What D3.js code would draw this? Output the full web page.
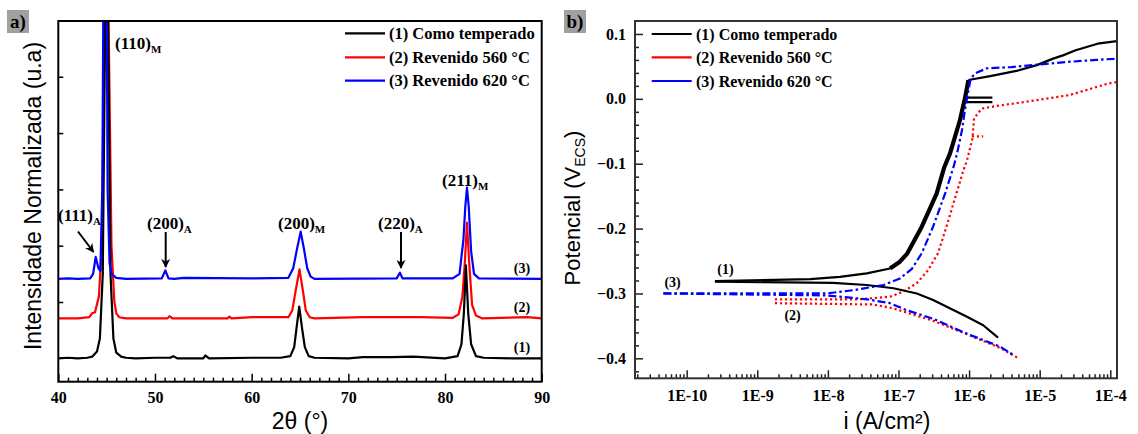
<!DOCTYPE html>
<html><head><meta charset="utf-8">
<script src="https://cdn.jsdelivr.net/npm/d3@7"></script>
<style>
body{margin:0;background:#fff;}
svg{display:block;}
</style></head>
<body>
<svg id="c" width="1138" height="434"></svg>
<script>
// ---------------- Panel a: XRD ----------------
const seriesNames = ["(1) Como temperado", "(2) Revenido 560 °C", "(3) Revenido 620 °C"];
const seriesColors = ["#000000", "#ff0000", "#0000ff"];
const xrdTicksX = [40, 50, 60, 70, 80, 90];
// [2theta, intensity(offset, a.u.)]
const xrdBlack = [[40,0],[41,0.01],[42,0],[43,0.01],[43.5,0.03],[44.0,0.12],[44.3,0.35],[44.6,1.5],[44.85,6],[45.0,12],[45.15,6],[45.4,1.5],[45.7,0.35],[46.0,0.1],[46.5,0.03],[47,0.01],[48,0],[50,0.01],[51.6,0.01],[51.9,0.04],[52.3,0],[55.0,0],[55.2,0.05],[55.6,0],[60,0.01],[63,0.01],[64.0,0.04],[64.4,0.2],[64.65,0.55],[64.92,0.92],[65.2,0.55],[65.5,0.2],[65.9,0.04],[66.5,0.01],[70,0],[71.5,0.02],[74.5,0.02],[76.7,0.03],[80,0],[81.3,0.04],[81.7,0.25],[81.95,0.8],[82.16,1.65],[82.4,0.8],[82.7,0.25],[83.2,0.04],[84,0.01],[87,0],[90,0]];
const xrdRed = [[40,0.71],[42,0.71],[43.2,0.73],[43.5,0.8],[43.8,0.82],[44.2,1.1],[44.5,2],[44.8,6],[45.0,12],[45.2,6],[45.5,2],[45.8,1.0],[46.0,0.8],[46.3,0.73],[47,0.71],[51.3,0.71],[51.5,0.75],[51.8,0.71],[57.5,0.71],[57.7,0.74],[57.9,0.71],[60.1,0.73],[63.8,0.73],[64.2,0.85],[64.55,1.2],[64.95,1.58],[65.3,1.2],[65.6,0.85],[66,0.73],[66.5,0.71],[71.5,0.73],[76,0.73],[77.5,0.73],[80.8,0.72],[81.4,0.78],[81.8,1.1],[82.05,1.7],[82.27,2.41],[82.5,1.7],[82.8,0.95],[83.2,0.76],[83.8,0.71],[88.5,0.73],[90,0.71]];
const xrdBlue = [[40,1.41],[41,1.42],[42,1.41],[43.3,1.42],[43.6,1.5],[43.87,1.8],[44.15,1.6],[44.35,1.55],[44.55,3],[44.85,12],[45.1,3],[45.3,1.7],[45.5,1.5],[46,1.43],[47,1.41],[50.7,1.42],[51.07,1.56],[51.4,1.42],[52,1.41],[53,1.43],[60,1.42],[63.8,1.43],[64.3,1.6],[64.7,1.95],[65.07,2.25],[65.4,1.95],[65.75,1.6],[66.1,1.45],[66.5,1.41],[75.0,1.42],[75.34,1.52],[75.6,1.42],[80.8,1.42],[81.5,1.5],[81.9,2.1],[82.1,2.7],[82.27,3.03],[82.45,2.7],[82.7,1.9],[83.0,1.5],[83.5,1.42],[90,1.41]];
const xrdTicksY = [1, 2, 3, 4, 5];

// ---------------- Panel b: polarization (log10 i, E) ----------------
const tafelTicksX = [-10, -9, -8, -7, -6, -5, -4];
const tafelTickLabels = ["1E-10", "1E-9", "1E-8", "1E-7", "1E-6", "1E-5", "1E-4"];
const tafelTicksY = [0.1, 0.0, -0.1, -0.2, -0.3, -0.4];
const blackAnodicFlat = [[-9.6,-0.281],[-8.25,-0.278],[-7.83,-0.2745],[-7.45,-0.269],[-7.12,-0.2615]];
const blackAnodicRise = [[-7.12,-0.2615],[-6.98,-0.251],[-6.88,-0.239],[-6.67,-0.197],[-6.46,-0.146],[-6.35,-0.105],[-6.27,-0.084],[-6.13,-0.033],[-6.06,0.0],[-6.01,0.029]];
const blackUpper = [[-6.01,0.029],[-5.70,0.035],[-5.33,0.043],[-5.04,0.052],[-4.81,0.062],[-4.67,0.067],[-4.49,0.075],[-4.18,0.085],[-3.905,0.089]];
const blackStubs = [[[-6.04,0.002],[-5.67,0.002]],[[-6.04,-0.005],[-5.67,-0.005]]];
const blackCathodic = [[-9.6,-0.282],[-7.93,-0.2837],[-7.45,-0.287],[-7.07,-0.292],[-6.74,-0.300],[-6.51,-0.310],[-6.03,-0.336],[-5.80,-0.349],[-5.59,-0.368]];
const redAnodic = [[-8.75,-0.309],[-7.55,-0.309],[-7.12,-0.305],[-6.93,-0.297],[-6.74,-0.284],[-6.58,-0.264],[-6.44,-0.238],[-6.32,-0.197],[-6.18,-0.146],[-6.08,-0.11],[-6.03,-0.095],[-5.95,-0.06],[-5.93,-0.03],[-5.82,-0.015],[-5.61,-0.011],[-5.04,-0.002],[-4.57,0.006],[-4.03,0.0236],[-3.905,0.026]];
const redNoise = [[-5.96,-0.058],[-5.8,-0.058]];
const redCathodic = [[-8.75,-0.315],[-7.36,-0.317],[-7.07,-0.323],[-6.84,-0.331],[-6.51,-0.342],[-6.03,-0.363],[-5.56,-0.384],[-5.30,-0.400]];
const blueAnodic = [[-10.33,-0.300],[-8.02,-0.300],[-7.64,-0.295],[-7.21,-0.287],[-6.98,-0.277],[-6.81,-0.262],[-6.67,-0.238],[-6.51,-0.197],[-6.34,-0.146],[-6.22,-0.105],[-6.17,-0.084],[-6.10,-0.048],[-6.06,-0.018],[-5.98,0.03],[-5.92,0.039],[-5.75,0.047],[-5.4,0.049],[-5.0,0.053],[-4.6,0.057],[-4.2,0.060],[-3.905,0.062]];
const blueCathodic = [[-10.33,-0.300],[-8.02,-0.303],[-7.45,-0.309],[-7.12,-0.315],[-6.88,-0.326],[-6.51,-0.339],[-6.03,-0.362],[-5.56,-0.382],[-5.37,-0.395]];

const svg = d3.select("#c");
const SERIF = "'Liberation Serif','Times New Roman',serif";
const SANS = "'Liberation Sans',Arial,sans-serif";

// ======== Panel a ========
const xa = d3.scaleLinear().domain([40, 90]).range([58.3, 541.7]);
const ya = d3.scaleLinear().domain([-0.415, 5.99]).range([381.7, 21]);
const ga = svg.append("g");
ga.append("clipPath").attr("id","clipA").append("rect")
  .attr("x", xa(40)).attr("y", ya(5.99)).attr("width", xa(90)-xa(40)).attr("height", ya(-0.415)-ya(5.99));
const lineA = d3.line().x(d=>xa(d[0])).y(d=>ya(d[1]));
const plotA = ga.append("g").attr("clip-path","url(#clipA)");
[[xrdRed,1],[xrdBlack,0],[xrdBlue,2]].forEach(([d,i])=>{
  plotA.append("path").attr("d", lineA(d)).attr("fill","none")
    .attr("stroke", seriesColors[i]).attr("stroke-width", 2.2).attr("stroke-linejoin","round");
});
// axes
const axA = ga.append("g").attr("transform",`translate(0,${ya(-0.415)})`)
  .call(d3.axisBottom(xa).tickValues(xrdTicksX).tickSizeInner(-8).tickSizeOuter(0).tickPadding(10));
ga.append("g").attr("transform",`translate(0,${ya(-0.415)})`)
  .call(d3.axisBottom(xa).tickValues(d3.range(41,90,1).filter(v=>v%10)).tickSizeInner(-4).tickSizeOuter(0).tickFormat(""));
ga.append("g").attr("transform",`translate(${xa(40)},0)`)
  .call(d3.axisLeft(ya).tickValues(xrdTicksY).tickSizeInner(-5).tickSizeOuter(0).tickFormat(""));
ga.selectAll(".domain").remove();
ga.selectAll(".tick line").attr("stroke","#000").attr("stroke-width",1.5);
axA.selectAll("text").attr("font-family",SERIF).attr("font-weight","bold").attr("font-size",16).attr("fill","#000");
ga.append("rect").attr("x",xa(40)).attr("y",ya(5.99)).attr("width",xa(90)-xa(40)).attr("height",ya(-0.415)-ya(5.99))
  .attr("fill","none").attr("stroke","#000").attr("stroke-width",2);
// titles
ga.append("text").attr("x",300).attr("y",429).attr("text-anchor","middle")
  .attr("font-family",SANS).attr("font-size",23).text("2θ (°)");
ga.append("text").attr("transform","translate(41,196) rotate(-90)").attr("text-anchor","middle")
  .attr("font-family",SANS).attr("font-size",23).text("Intensidade Normalizada (u.a)");
// panel tag
ga.append("rect").attr("x",7).attr("y",10).attr("width",22).attr("height",23).attr("fill","#a0a0a0");
ga.append("text").attr("x",18).attr("y",28).attr("text-anchor","middle").attr("font-family",SERIF)
  .attr("font-weight","bold").attr("font-size",19).text("a)");
// legend
seriesNames.forEach((n,i)=>{
  const y = [33.3,57.3,80.7][i];
  ga.append("line").attr("x1",345).attr("x2",385).attr("y1",y).attr("y2",y).attr("stroke",seriesColors[i]).attr("stroke-width",2.2);
  ga.append("text").attr("x",389).attr("y",y+5.5).attr("font-family",SERIF).attr("font-weight","bold").attr("font-size",16.5).text(n);
});
// peak labels
const peakLabels = [["(110)","M",115,49],["(211)","M",442,186],["(111)","A",58,221],["(200)","A",147,229],["(200)","M",278,229],["(220)","A",378,229]];
peakLabels.forEach(([t,s,x,y])=>{
  const tx = ga.append("text").attr("x",x).attr("y",y).attr("font-family",SERIF).attr("font-weight","bold").attr("font-size",17);
  tx.append("tspan").text(t);
  tx.append("tspan").attr("dy",4).attr("font-size",11).text(s);
});
// arrows
const defs = svg.append("defs");
defs.append("marker").attr("id","arr").attr("viewBox","0 0 10 10").attr("refX",9).attr("refY",5)
  .attr("markerWidth",4.5).attr("markerHeight",4.5).attr("orient","auto-start-reverse").attr("markerUnits","strokeWidth")
  .append("path").attr("d","M0,0 L10,5 L0,10 L3,5 z").attr("fill","#000");
[[78,231.5,93.5,252],[165.7,232,165.7,267],[401,232,401,268]].forEach(([x1,y1,x2,y2])=>{
  ga.append("line").attr("x1",x1).attr("y1",y1).attr("x2",x2).attr("y2",y2).attr("stroke","#000").attr("stroke-width",2).attr("marker-end","url(#arr)");
});
// series numbers
[["(3)",1.41],["(2)",0.71],["(1)",0]].forEach(([t,v])=>{
  ga.append("text").attr("x",522).attr("y",ya(v)-6).attr("text-anchor","middle").attr("font-family",SERIF)
    .attr("font-weight","bold").attr("font-size",14).text(t);
});

// ======== Panel b ========
const xb = d3.scaleLog().domain([Math.pow(10,-10.732), Math.pow(10,-3.905)]).range([635, 1117]);
const yb = d3.scaleLinear().domain([-0.4308, 0.12]).range([378.3, 21]);
const gb = svg.append("g");
gb.append("clipPath").attr("id","clipB").append("rect").attr("x",635).attr("y",21).attr("width",482).attr("height",357.3);
const lineB = d3.line().x(d=>xb(Math.pow(10,d[0]))).y(d=>yb(d[1]));
const plotB = gb.append("g").attr("clip-path","url(#clipB)");
function drawB(d, color, w, dash){
  const p = plotB.append("path").attr("d", lineB(d)).attr("fill","none").attr("stroke",color)
    .attr("stroke-width", w).attr("stroke-linejoin","round");
  if (dash) p.attr("stroke-dasharray", dash);
  return p;
}
const redDash = "2.2,2.8", blueDash = "8,3,2.5,3";
drawB(redCathodic, "#ff0000", 2.2, redDash);
drawB(redAnodic, "#ff0000", 2.2, redDash);
drawB(redNoise, "#ff0000", 2.2, redDash);
drawB(blackCathodic, "#000", 2.2);
drawB(blackAnodicFlat, "#000", 2.2);
drawB(blackAnodicRise, "#000", 4.2);
drawB(blackUpper, "#000", 2.2);
blackStubs.forEach(s=>drawB(s, "#000", 2.2));
drawB(blueCathodic, "#0000ff", 2.2, blueDash);
drawB(blueAnodic, "#0000ff", 2.2, blueDash);

// axes b
const axBx = gb.append("g").attr("transform",`translate(0,378.3)`)
  .call(d3.axisBottom(xb).tickValues(tafelTicksX.map(v=>Math.pow(10,v))).tickSizeInner(-8).tickSizeOuter(0).tickPadding(11)
    .tickFormat((d,i)=>tafelTickLabels[i]));
const minorX = [];
for (let e=-11; e<-4; e++) for (let m=2; m<10; m++){ const v=m*Math.pow(10,e); if (v>=xb.domain()[0] && v<=xb.domain()[1]) minorX.push(v); }
gb.append("g").attr("transform",`translate(0,378.3)`)
  .call(d3.axisBottom(xb).tickValues(minorX).tickSizeInner(-4).tickSizeOuter(0).tickFormat(""));
const axBy = gb.append("g").attr("transform",`translate(635,0)`)
  .call(d3.axisLeft(yb).tickValues(tafelTicksY).tickSizeInner(-8).tickSizeOuter(0).tickPadding(9).tickFormat(d3.format(".1f")));
gb.append("g").attr("transform",`translate(635,0)`)
  .call(d3.axisLeft(yb).tickValues(d3.range(-0.42,0.12,0.02).filter(v=>Math.abs(Math.round(v*10)-v*10)>0.01)).tickSizeInner(-4).tickSizeOuter(0).tickFormat(""));
gb.selectAll(".domain").remove();
gb.selectAll(".tick line").attr("stroke","#222").attr("stroke-width",1.5);
gb.selectAll(".tick text").attr("font-family",SERIF).attr("font-weight","bold").attr("font-size",16).attr("fill","#000");
gb.append("rect").attr("x",635).attr("y",21).attr("width",482).attr("height",357.3)
  .attr("fill","none").attr("stroke","#333").attr("stroke-width",2);
// titles
gb.append("text").attr("x",887).attr("y",429).attr("text-anchor","middle").attr("font-family",SANS).attr("font-size",23).text("i (A/cm²)");
const yt = gb.append("text").attr("transform","translate(580,208) rotate(-90)").attr("text-anchor","middle")
  .attr("font-family",SANS).attr("font-size",22);
yt.append("tspan").text("Potencial (V");
yt.append("tspan").attr("dy",5).attr("font-size",14).text("ECS");
yt.append("tspan").attr("dy",-5).text(")");
// tag
gb.append("rect").attr("x",564).attr("y",10).attr("width",22).attr("height",23).attr("fill","#a0a0a0");
gb.append("text").attr("x",575).attr("y",28).attr("text-anchor","middle").attr("font-family",SERIF)
  .attr("font-weight","bold").attr("font-size",19).text("b)");
// legend b
seriesNames.forEach((n,i)=>{
  const y = [34,57.3,81][i];
  gb.append("line").attr("x1",651.7).attr("x2",691.7).attr("y1",y).attr("y2",y).attr("stroke",seriesColors[i]).attr("stroke-width",2.2);
  gb.append("text").attr("x",696).attr("y",y+5.5).attr("font-family",SERIF).attr("font-weight","bold").attr("font-size",16).text(n);
});
// curve labels
[["(1)",-9.45,-0.262],["(3)",-10.2,-0.282],["(2)",-8.5,-0.333]].forEach(([t,lx,e])=>{
  gb.append("text").attr("x",xb(Math.pow(10,lx))).attr("y",yb(e)+5).attr("text-anchor","middle").attr("font-family",SERIF)
    .attr("font-weight","bold").attr("font-size",14).text(t);
});
</script>
</body></html>
